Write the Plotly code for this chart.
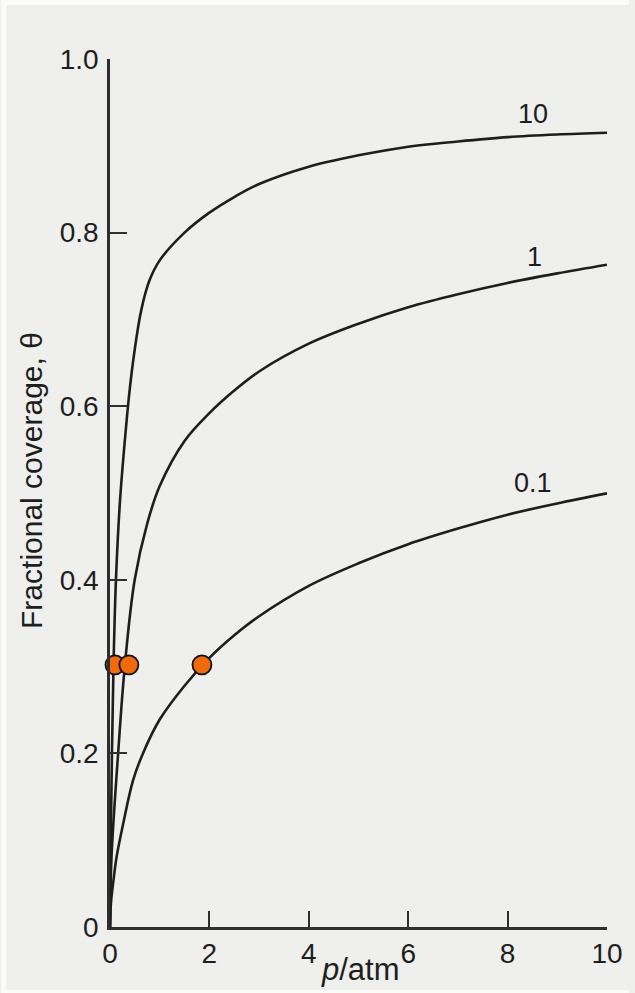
import plotly.graph_objects as go

# ---- data ----
p_k10 = [0, 0.02, 0.07, 0.12, 0.2, 0.318, 0.398, 0.497, 0.63, 0.795, 1.0, 1.5, 2, 2.5, 3, 4, 5, 6, 7, 8, 9, 10]
theta_k10 = [0, 0.12, 0.3, 0.4, 0.49, 0.573, 0.62, 0.665, 0.711, 0.745, 0.768, 0.80, 0.823, 0.841, 0.856, 0.876, 0.889, 0.899, 0.905, 0.910, 0.913, 0.915]

p_k1 = [0, 0.03, 0.166, 0.3, 0.497, 0.75, 1.0, 1.5, 2, 2.5, 3, 4, 5, 6, 7, 8, 9, 10]
theta_k1 = [0, 0.08, 0.202, 0.302, 0.4, 0.465, 0.508, 0.56, 0.592, 0.618, 0.640, 0.672, 0.695, 0.714, 0.729, 0.742, 0.753, 0.763]

p_k01 = [0, 0.02, 0.066, 0.133, 0.265, 0.464, 0.663, 1.0, 1.5, 2, 2.5, 3, 4, 5, 6, 7, 8, 9, 10]
theta_k01 = [0, 0.028, 0.052, 0.081, 0.119, 0.169, 0.2, 0.239, 0.278, 0.31, 0.336, 0.358, 0.393, 0.419, 0.441, 0.459, 0.475, 0.488, 0.4996]

dot_p = [0.1, 0.38, 1.85]
dot_theta = [0.302, 0.302, 0.302]

curve_labels = ["10", "1", "0.1"]
label_p = [8.52, 8.55, 8.52]
label_theta = [0.937, 0.772, 0.511]

x_ticks = [0, 2, 4, 6, 8, 10]
y_ticks = [0, 0.2, 0.4, 0.6, 0.8, 1.0]
y_ticktext = ["0", "0.2", "0.4", "0.6", "0.8", "1.0"]

# ---- figure ----
W, H = 635, 993
L, R, T, B = 110, 22, 59, 66
pw, ph = W - L - R, H - T - B

def px2paper_x(px):
    return (px - L) / pw

def py2paper_y(py):
    return (H - B - py) / ph

FONT = "Liberation Sans, Arial, sans-serif"
INK = "#1e1e1e"

fig = go.Figure()
for xs, ys in [(p_k10, theta_k10), (p_k1, theta_k1), (p_k01, theta_k01)]:
    fig.add_trace(go.Scatter(
        x=xs, y=ys, mode="lines",
        line=dict(color=INK, width=2.6, shape="spline", smoothing=1.0),
        cliponaxis=False, showlegend=False, hoverinfo="skip"))

fig.add_trace(go.Scatter(
    x=dot_p, y=dot_theta, mode="markers",
    marker=dict(size=19, color="#ee6a0a", line=dict(color="#111111", width=1.8)),
    cliponaxis=False, showlegend=False))

for t, xp, yt in zip(curve_labels, label_p, label_theta):
    fig.add_annotation(x=xp, y=yt, text=t, showarrow=False,
                       font=dict(family=FONT, size=27, color=INK),
                       xanchor="center", yanchor="middle")

fig.add_annotation(xref="paper", yref="paper", x=px2paper_x(364), y=py2paper_y(970),
                   text="<i>p</i>/atm", showarrow=False,
                   font=dict(family=FONT, size=31, color=INK),
                   xanchor="center", yanchor="middle")
fig.add_annotation(xref="paper", yref="paper", x=px2paper_x(30), y=py2paper_y(480),
                   text="Fractional coverage, θ", textangle=-90, showarrow=False,
                   font=dict(family=FONT, size=30, color=INK),
                   xanchor="center", yanchor="middle")

# white scan border strips
for x0, x1, y0, y1 in [(0, 5, 0, H), (0, W, 0, 5), (0, W, 990, H)]:
    fig.add_shape(type="rect", xref="paper", yref="paper",
                  x0=px2paper_x(x0), x1=px2paper_x(x1),
                  y0=py2paper_y(y1), y1=py2paper_y(y0),
                  fillcolor="#fbfbfa", line=dict(width=0), layer="below")

axis_common = dict(
    showgrid=False, zeroline=False, showline=True,
    linecolor="#2e2e2e", linewidth=2.5,
    ticks="inside", tickcolor="#2e2e2e", tickwidth=2,
    tickfont=dict(family=FONT, size=28, color=INK),
)

fig.update_layout(
    width=W, height=H,
    margin=dict(l=L, r=R, t=T, b=B),
    paper_bgcolor="#efefed", plot_bgcolor="rgba(0,0,0,0)",
    xaxis=dict(range=[0, 10], tickvals=x_ticks, ticklen=16,
               ticklabelstandoff=0, **axis_common),
    yaxis=dict(range=[0, 1], tickvals=y_ticks, ticktext=y_ticktext, ticklen=17,
               ticklabelstandoff=3, **axis_common),
)

post = (
    "document.documentElement.style.overflow='hidden';"
    "document.body.style.margin='0';"
    "document.body.style.overflow='hidden';"
)
fig.write_html("out.html", config={"displayModeBar": False}, post_script=post)
